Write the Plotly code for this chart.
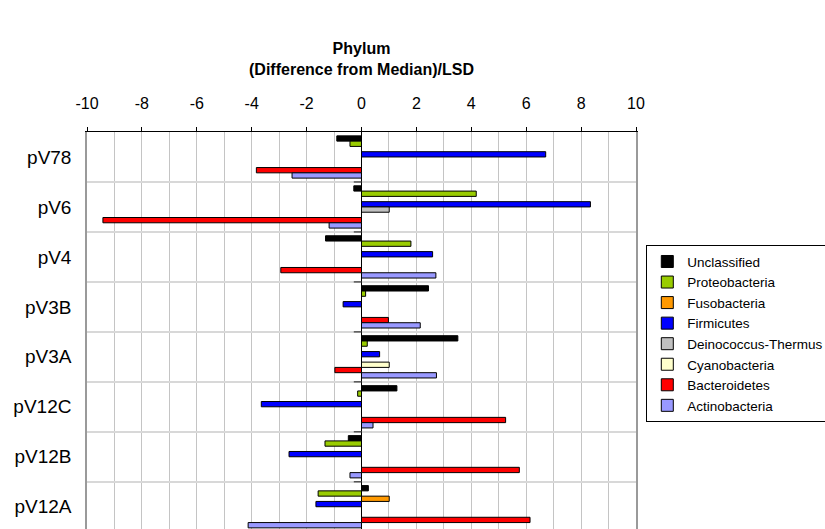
import plotly.graph_objects as go

# Regions (top to bottom) and phylum values: (difference from median) / LSD
regions = ["pV78", "pV6", "pV4", "pV3B", "pV3A", "pV12C", "pV12B", "pV12A"]

unclassified = [-0.90, -0.28, -1.31, 2.44, 3.51, 1.29, -0.48, 0.25]
proteobacteria = [-0.42, 4.18, 1.80, 0.15, 0.21, -0.14, -1.33, -1.58]
fusobacteria = [0, 0, 0, 0, 0, 0, 0, 1.01]
firmicutes = [6.71, 8.34, 2.59, -0.67, 0.66, -3.65, -2.64, -1.66]
deinococcus_thermus = [0, 1.01, 0, 0, 0, 0, 0, 0]
cyanobacteria = [0, 0, 0, 0, 1.01, 0, 0, 0]
bacteroidetes = [-3.83, -9.42, -2.94, 0.98, -0.97, 5.25, 5.75, 6.14]
actinobacteria = [-2.53, -1.18, 2.71, 2.14, 2.73, 0.42, -0.42, -4.13]

x_ticks = [-10, -8, -6, -4, -2, 0, 2, 4, 6, 8, 10]
x_tick_text = [str(v) for v in x_ticks]  # plain hyphen for negatives

series = [
    ("Unclassified", unclassified, "#000000"),
    ("Proteobacteria", proteobacteria, "#99CC00"),
    ("Fusobacteria", fusobacteria, "#FF9900"),
    ("Firmicutes", firmicutes, "#0000FF"),
    ("Deinococcus-Thermus", deinococcus_thermus, "#C0C0C0"),
    ("Cyanobacteria", cyanobacteria, "#FFFFCC"),
    ("Bacteroidetes", bacteroidetes, "#FF0000"),
    ("Actinobacteria", actinobacteria, "#9999FF"),
]

W, H = 825, 529
L, R, T = 87.3, 635.7, 131.7
plot_h = H - T
group_px = 50.0
visible_groups = plot_h / group_px

fig = go.Figure()
for name, vals, color in series:
    fig.add_trace(go.Bar(
        y=regions, x=vals, name=name, orientation="h",
        legendgroup=name,
        marker=dict(color=color, line=dict(color="#000000", width=1)),
    ))

# small category ticks sitting on the zero line
shapes = []
for i in range(len(regions)):
    yb = i + 0.5
    shapes.append(dict(type="line", xref="x", yref="y",
                       x0=-0.28, x1=0, y0=yb, y1=yb,
                       line=dict(color="#555555", width=1.5), layer="above"))

fig.update_layout(
    width=W, height=H,
    margin=dict(l=L, r=W - R, t=T, b=0, pad=0, autoexpand=False),
    paper_bgcolor="white", plot_bgcolor="white",
    font=dict(family="Liberation Sans, Arial, sans-serif", color="#000000"),
    barmode="group", bargap=0.154, bargroupgap=0,
    title=dict(
        text="<b>Phylum<br>(Difference from Median)/LSD</b>",
        font=dict(size=16, color="#000000"),
        xref="paper", x=0.5, xanchor="center",
        yref="container", y=1 - 54 / H, yanchor="middle",
    ),
    xaxis=dict(
        side="top", range=[-10, 10], tickvals=x_ticks, ticktext=x_tick_text,
        ticks="outside", ticklen=4, tickcolor="#000000", tickwidth=1,
        ticklabelstandoff=12,
        tickfont=dict(size=16),
        showline=True, linecolor="#000000", linewidth=1,
        showgrid=True, gridcolor="#C4C4C4", gridwidth=1,
        minor=dict(dtick=1, tick0=0, showgrid=True, gridcolor="#C4C4C4", gridwidth=1),
        zeroline=True, zerolinecolor="#000000", zerolinewidth=1,
        fixedrange=True,
    ),
    yaxis=dict(
        type="category", categoryorder="array", categoryarray=regions,
        range=[-0.5 + visible_groups, -0.5],
        tickson="boundaries", ticks="",
        showgrid=True, gridcolor="#D8D8D8", gridwidth=1.5,
        showline=True, mirror=True, linecolor="#9A9A9A", linewidth=1.5,
        tickfont=dict(size=19), ticklabelstandoff=10,
        zeroline=False,
    ),
    legend=dict(
        x=(646 - L) / (R - L), xanchor="left",
        y=(H - 245) / plot_h, yanchor="top",
        bgcolor="white", bordercolor="#000000", borderwidth=1,
        font=dict(size=13.5), traceorder="normal",
        itemclick=False, itemdoubleclick=False,
        tracegroupgap=2,
    ),
    shapes=shapes,
    showlegend=True,
)

fig.write_html("out.html")
